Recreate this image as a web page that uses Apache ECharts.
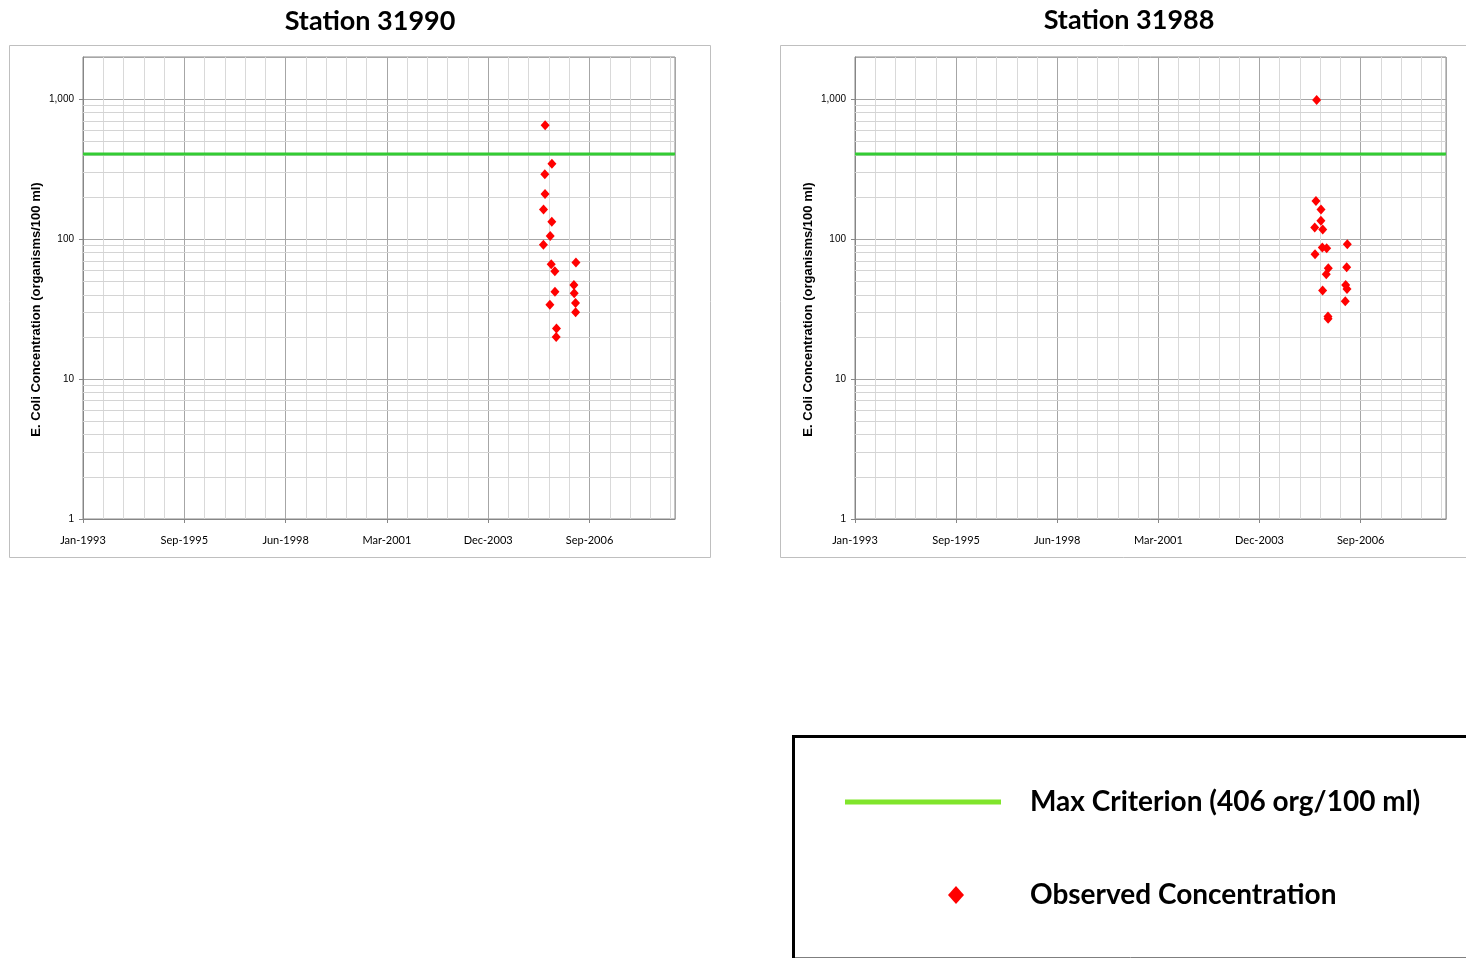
<!DOCTYPE html>
<html><head><meta charset="utf-8">
<script src="https://cdn.jsdelivr.net/npm/echarts@6/dist/echarts.min.js"></script>
<style>html,body{margin:0;padding:0;background:#fff}#c{width:1466px;height:958px}</style>
</head><body><div id="c"></div>
<script>
// ---------- data ----------
const stationNames = ['Station 31990', 'Station 31988'];
const tickLabels = ['Jan-1993', 'Sep-1995', 'Jun-1998', 'Mar-2001', 'Dec-2003', 'Sep-2006'];
const axisStart = '1993-01-01';
const axisEnd = '2009-01-01';
const tickStepDays = 1000;
const minorStepDays = 200;
const yMin = 1;
const yMax = 2000;
const minorGridValues = [2,3,4,5,6,7,8,9,20,30,40,50,60,70,80,90,200,300,400,500,600,700,800,900];
const criterionValue = 406;
const criterionName = 'Max Criterion (406 org/100 ml)';
const observedName = 'Observed Concentration';
const yAxisTitle = 'E. Coli Concentration (organisms/100 ml)';

const s31990Dates = ['2005-06-29','2005-09-04','2005-06-26','2005-06-28','2005-06-13','2005-09-03','2005-08-18','2005-06-12','2005-08-28','2006-04-29','2005-10-03','2006-04-09','2005-10-04','2006-04-12','2005-08-15','2006-04-25','2006-04-26','2005-10-19','2005-10-16'];
const s31990Values = [650, 345, 290, 210, 163, 133, 105, 91, 66, 68, 59, 47, 42, 41, 34, 35, 30, 23, 20];

const s31988Dates = ['2005-07-02','2005-06-25','2005-08-14','2005-08-13','2005-06-13','2005-08-31','2005-08-27','2005-10-09','2006-05-01','2005-06-16','2005-10-25','2006-04-25','2005-10-05','2006-04-15','2006-04-28','2005-08-30','2006-04-11','2005-10-22','2005-10-23'];
const s31988Values = [984, 187, 163, 135, 121, 117, 87, 86, 92, 78, 62, 63, 56, 47, 44, 43, 36, 28, 27];

// ---------- helpers ----------
function dayOf(s) {
  const p = s.split('-').map(Number);
  const a = axisStart.split('-').map(Number);
  return (Date.UTC(p[0], p[1]-1, p[2]) - Date.UTC(a[0], a[1]-1, a[2])) / 86400000;
}
const spanDays = dayOf(axisEnd);
const stations = [
  {dates: s31990Dates, values: s31990Values},
  {dates: s31988Dates, values: s31988Values}
];
const grids = [
  {left: 83, top: 57, width: 592, height: 462, show: true, borderColor: '#8a8a8a', borderWidth: 1, backgroundColor: '#fff'},
  {left: 855, top: 57, width: 591, height: 462, show: true, borderColor: '#8a8a8a', borderWidth: 1, backgroundColor: '#fff'}
];
const titleX = [370, 1129];

const xAxes = [], yAxes = [], series = [];
grids.forEach((g, i) => {
  // minor vertical grid lines
  xAxes.push({
    type: 'value', gridIndex: i, position: 'bottom', min: 0, max: spanDays, interval: minorStepDays,
    axisLine: {show: false}, axisTick: {show: false}, axisLabel: {show: false},
    splitLine: {show: true, lineStyle: {color: '#d9d9d9', width: 1}}
  });
  // major axis
  xAxes.push({
    type: 'value', gridIndex: i, position: 'bottom', min: 0, max: spanDays, interval: tickStepDays,
    axisLine: {show: true, onZero: false, lineStyle: {color: '#868686'}},
    axisTick: {show: true, length: 4, lineStyle: {color: '#868686'}},
    axisLabel: {
      show: true, color: '#000', fontFamily: 'Lato', fontSize: 11, margin: 16,
      showMaxLabel: false,
      formatter: v => (v % tickStepDays === 0 && tickLabels[v / tickStepDays] !== undefined) ? tickLabels[v / tickStepDays] : ''
    },
    splitLine: {show: true, lineStyle: {color: '#a6a6a6', width: 1}}
  });
  yAxes.push({
    type: 'log', logBase: 10, gridIndex: i, min: yMin, max: yMax,
    axisLine: {show: true, lineStyle: {color: '#868686'}},
    axisTick: {show: true, length: 4, lineStyle: {color: '#868686'}},
    axisLabel: {
      color: '#000', fontFamily: 'Liberation Sans', fontSize: 10, margin: 9,
      showMaxLabel: false,
      formatter: v => (v === yMax ? '' : Number(v).toLocaleString('en-US'))
    },
    splitLine: {show: true, lineStyle: {color: '#a6a6a6', width: 1}},
    name: yAxisTitle, nameLocation: 'middle', nameGap: 40, nameRotate: 90,
    nameTextStyle: {fontFamily: 'Liberation Sans', fontWeight: 'bold', fontSize: 13, color: '#000', padding: [0, 43, 0, 0]}
  });
  // minor horizontal grid lines
  series.push({
    type: 'line', name: 'minor-grid-' + i, xAxisIndex: 2*i + 1, yAxisIndex: i, data: [],
    silent: true, z: 1,
    markLine: {
      z: 1, silent: true, symbol: 'none', label: {show: false}, animation: false,
      lineStyle: {color: '#d4d4d4', type: 'solid', width: 1},
      emphasis: {disabled: true},
      data: minorGridValues.map(v => ({yAxis: v}))
    }
  });
  series.push({
    type: 'line', name: criterionName, xAxisIndex: 2*i + 1, yAxisIndex: i,
    data: [[0, criterionValue], [spanDays, criterionValue]],
    symbol: 'none', z: 2, silent: true,
    lineStyle: {color: '#33cc33', width: 3},
    itemStyle: {color: '#33cc33'}
  });
  const st = stations[i];
  series.push({
    type: 'scatter', name: observedName, xAxisIndex: 2*i + 1, yAxisIndex: i,
    data: st.dates.map((d, k) => [dayOf(d), st.values[k]]),
    symbol: 'diamond', symbolSize: [9, 10], z: 3,
    itemStyle: {color: '#ff0000', opacity: 1}
  });
});

const option = {
  animation: false,
  backgroundColor: '#fff',
  grid: grids,
  xAxis: xAxes,
  yAxis: yAxes,
  series: series,
  legend: [
    {
      data: [{name: criterionName, icon: 'rect', itemStyle: {color: '#80e52b', opacity: 1}}],
      left: 845, top: 788, padding: 0, selectedMode: false,
      itemWidth: 156, itemHeight: 5,
      textStyle: {fontFamily: 'Lato', fontWeight: 'bold', fontSize: 28, color: '#000', padding: [0, 0, 0, 24]}
    },
    {
      data: [{name: observedName, icon: 'diamond', itemStyle: {color: '#ff0000', opacity: 1}}],
      left: 948, top: 881, padding: 0, selectedMode: false,
      itemWidth: 16, itemHeight: 18,
      textStyle: {fontFamily: 'Lato', fontWeight: 'bold', fontSize: 28, color: '#000', padding: [0, 0, 0, 61]}
    }
  ],
  graphic: [
    {type: 'rect', z: -10, shape: {x: 9.5, y: 45.5, width: 701, height: 512}, style: {fill: '#fff', stroke: '#bfbfbf', lineWidth: 1}},
    {type: 'rect', z: -10, shape: {x: 780.5, y: 45.5, width: 720, height: 512}, style: {fill: '#fff', stroke: '#bfbfbf', lineWidth: 1}},
    {type: 'rect', z: -10, shape: {x: 793.5, y: 736.5, width: 720, height: 260}, style: {fill: '#fff', stroke: '#000', lineWidth: 3}},
    {type: 'line', z: -9, shape: {x1: 795, y1: 957.5, x2: 1466, y2: 957.5}, style: {stroke: '#7f7f7f', lineWidth: 1}},
    {type: 'text', x: titleX[0], y: 21, style: {text: stationNames[0], align: 'center', verticalAlign: 'middle', fontFamily: 'Lato', fontWeight: 'bold', fontSize: 27, fill: '#000'}},
    {type: 'text', x: titleX[1], y: 20, style: {text: stationNames[1], align: 'center', verticalAlign: 'middle', fontFamily: 'Lato', fontWeight: 'bold', fontSize: 27, fill: '#000'}}
  ]
};
const chart = echarts.init(document.getElementById('c'), null, {renderer: 'canvas'});
chart.setOption(option);
</script>
</body></html>
